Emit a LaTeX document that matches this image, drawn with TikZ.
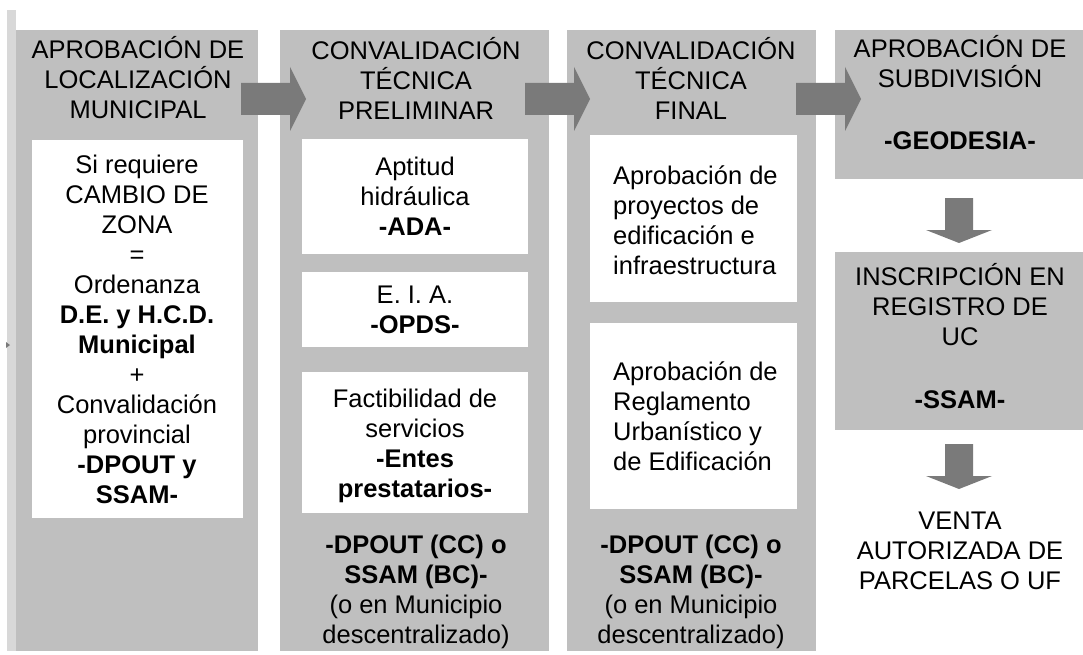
\documentclass[tikz,border=0pt]{standalone}
\usepackage{fontspec}
\setmainfont{Liberation Sans}
\definecolor{grisetapa}{RGB}{191,191,191}
\definecolor{grisflecha}{RGB}{122,122,122}
\definecolor{grisbarra}{RGB}{216,216,216}
\tikzset{
	etapa/.style={fill=grisetapa, draw=none, inner sep=0pt, anchor=north west},
	caja/.style={fill=white, draw=none, inner sep=0pt, anchor=north west},
	texto/.style={align=center, inner sep=0pt, text=black},
	flechader/.pic={\fill[grisflecha] (0,-16) -- (49,-16) -- (49,-32) -- (65,0) -- (49,32) -- (49,16) -- (0,16) -- cycle;},
	flechaabajo/.pic={\fill[grisflecha] (-14,0) -- (14,0) -- (14,32) -- (33,32) -- (0,45) -- (-33,32) -- (-14,32) -- cycle;},
}
\begin{document}
\begin{tikzpicture}[x=1pt, y=-1pt, font={\fontsize{25.5pt}{30pt}\selectfont}, line join=round]
		\useasboundingbox (0,0) rectangle (1083,655);
		% Etapas
		\fill[grisbarra] (7,10) rectangle (16,651);
		\fill[grisflecha] (6,342) -- (10,345) -- (6,348) -- cycle;
		\node[etapa, minimum width=242pt, minimum height=621pt] (et1) at (16,30) {};
		\node[etapa, minimum width=269pt, minimum height=621pt] (et2) at (280,30) {};
		\node[etapa, minimum width=249pt, minimum height=621pt] (et3) at (567,30) {};
		\node[etapa, minimum width=248pt, minimum height=149pt] (et4) at (835,30) {};
		\node[etapa, minimum width=248pt, minimum height=178pt] (et5) at (835,252) {};
		% Cajas blancas
		\node[caja, minimum width=211pt, minimum height=378pt] (cj1) at (32,140) {};
		\node[caja, minimum width=226pt, minimum height=115pt] (cj2a) at (302,139) {};
		\node[caja, minimum width=226pt, minimum height=75pt] (cj2b) at (302,272) {};
		\node[caja, minimum width=226pt, minimum height=141pt] (cj2c) at (302,372) {};
		\node[caja, minimum width=207pt, minimum height=167pt] (cj3a) at (590,135) {};
		\node[caja, minimum width=207pt, minimum height=186pt] (cj3b) at (590,323) {};
		% Flechas
		\coordinate (f12) at (241,99);
		\coordinate (f23) at (525,99);
		\coordinate (f34) at (796,99);
		\coordinate (f45) at (959,198);
		\coordinate (f56) at (959,444);
		\pic at (f12) {flechader};
		\pic at (f23) {flechader};
		\pic at (f34) {flechader};
		\pic at (f45) {flechaabajo};
		\pic at (f56) {flechaabajo};
		% Textos
		\node[texto] (t1) at (138,78) {APROBACIÓN DE\\LOCALIZACIÓN\\MUNICIPAL};
		\node[texto] (t2) at (416,78) {CONVALIDACIÓN\\TÉCNICA\\PRELIMINAR};
		\node[texto] (t3) at (691,78) {CONVALIDACIÓN\\TÉCNICA\\FINAL};
		\node[texto] (t4) at (960,93) {APROBACIÓN DE\\SUBDIVISIÓN\\[32pt]\textbf{-GEODESIA-}};
		\node[texto] (t5) at (960,336) {INSCRIPCIÓN EN\\REGISTRO DE\\UC\\[33pt]\textbf{-SSAM-}};
		\node[texto] (t6) at (960,551) {VENTA\\AUTORIZADA DE\\PARCELAS O UF};
		\node[texto] (c1) at (137,329) {Si requiere\\CAMBIO DE\\ZONA\\=\\Ordenanza\\\textbf{D.E. y H.C.D.}\\\textbf{Municipal}\\+\\Convalidación\\provincial\\\textbf{-DPOUT y}\\\textbf{SSAM-}};
		\node[texto] (c2a) at (415,196) {Aptitud\\hidráulica\\\textbf{-ADA-}};
		\node[texto] (c2b) at (415,310) {E. I. A.\\\textbf{-OPDS-}};
		\node[texto] (c2c) at (415,446) {Factibilidad de\\servicios\\\textbf{-Entes}\\\textbf{prestatarios-}};
		\node[texto] (b2) at (416,592) {\textbf{-DPOUT (CC) o}\\\textbf{SSAM (BC)-}\\(o en Municipio\\descentralizado)};
		\node[texto, align=left, anchor=west] (c3a) at (613,220) {Aprobación de\\proyectos de\\edificación e\\infraestructura};
		\node[texto, align=left, anchor=west] (c3b) at (613,416) {Aprobación de\\Reglamento\\Urbanístico y\\de Edificación};
		\node[texto] (b3) at (691,592) {\textbf{-DPOUT (CC) o}\\\textbf{SSAM (BC)-}\\(o en Municipio\\descentralizado)};
\end{tikzpicture}
\end{document}
